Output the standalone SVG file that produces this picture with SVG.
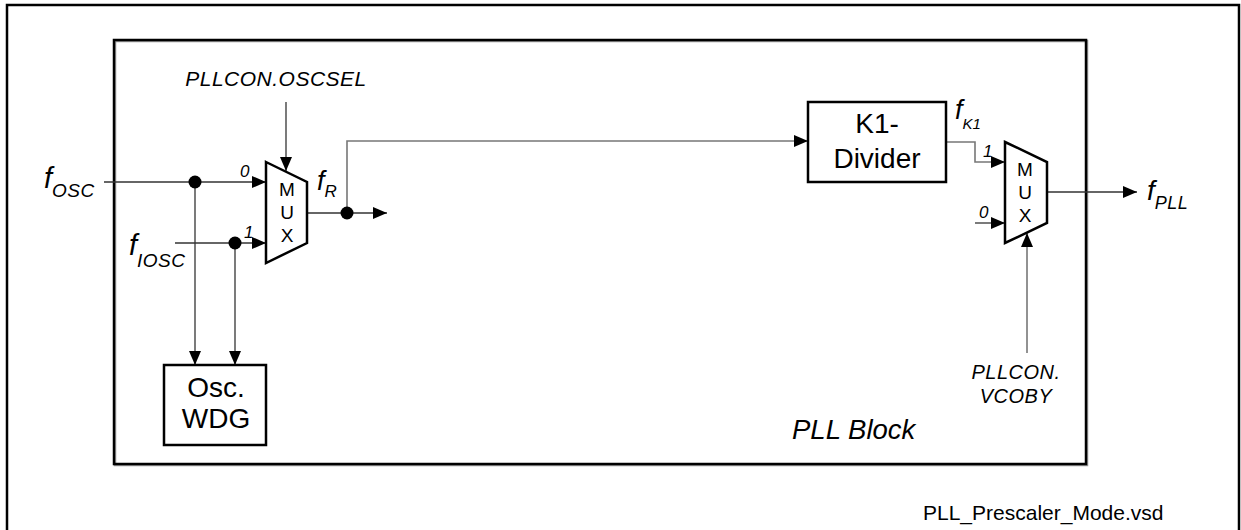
<svg xmlns="http://www.w3.org/2000/svg" width="1241" height="530" viewBox="0 0 1241 530">
<defs>
<marker id="arr" markerWidth="14" markerHeight="12" refX="14" refY="6" orient="auto" markerUnits="userSpaceOnUse"><path d="M0,0 L14,6 L0,12 Z" fill="#000"/></marker>
<style>
.frame{fill:none;stroke:#000;stroke-width:2.5}
.box{fill:#fff;stroke:#000;stroke-width:2.5}
.mux{fill:#fff;stroke:#000;stroke-width:2.5}
.w{fill:none;stroke:#333;stroke-width:1.3}
.g{fill:none;stroke:#777;stroke-width:1.6}
.t{font-family:"Liberation Sans",Arial,sans-serif;fill:#000}
.it{font-style:italic}
.dot{fill:#000}
</style>
</defs>
<rect x="7" y="5" width="1232" height="540" class="frame" stroke-width="2"/>
<g id="pll-block">
<rect x="115" y="41" width="972" height="424" fill="none" stroke="#999" stroke-width="2.5"/>
<rect x="114" y="40" width="972" height="424" class="frame"/>
<text x="792" y="439" class="t it" font-size="27.5">PLL Block</text>
</g>
<g id="connectors">
<path d="M104,182 L266,182" class="w" marker-end="url(#arr)"/>
<path d="M175,243 L266,243" class="w" marker-end="url(#arr)"/>
<path d="M195,182 L195,365" class="w" marker-end="url(#arr)"/>
<path d="M235,243 L235,365" class="w" marker-end="url(#arr)"/>
<path d="M286,102 L286,171" class="w" marker-end="url(#arr)"/>
<path d="M307,213 L387,213" class="w" marker-end="url(#arr)"/>
<path d="M347,213 L347,141 L808,141" class="g" marker-end="url(#arr)"/>
<path d="M946,142 L975,142 L975,162 L1005,162" class="g" marker-end="url(#arr)"/>
<path d="M975,223 L1005,223" class="w" marker-end="url(#arr)"/>
<path d="M1047,192 L1137,192" class="w" marker-end="url(#arr)"/>
<path d="M1027,353 L1027,233" class="g" marker-end="url(#arr)"/>
<circle cx="195" cy="182" r="6.5" class="dot"/>
<circle cx="235" cy="243" r="6.5" class="dot"/>
<circle cx="347" cy="213" r="6.5" class="dot"/>
</g>
<g id="mux1">
<path d="M266,162 L307,182 L307,243 L266,263 Z" class="mux"/>
<text x="287" y="196" class="t" font-size="19" text-anchor="middle">M</text>
<text x="287" y="219" class="t" font-size="19" text-anchor="middle">U</text>
<text x="287" y="242" class="t" font-size="19" text-anchor="middle">X</text>
<text x="240" y="177" class="t it" font-size="17">0</text>
<text x="244" y="238" class="t it" font-size="17">1</text>
</g>
<g id="mux2">
<path d="M1005,142 L1047,162 L1047,223 L1005,243 Z" class="mux"/>
<text x="1025" y="176" class="t" font-size="19" text-anchor="middle">M</text>
<text x="1025" y="199" class="t" font-size="19" text-anchor="middle">U</text>
<text x="1025" y="222" class="t" font-size="19" text-anchor="middle">X</text>
<text x="983" y="157" class="t it" font-size="17">1</text>
<text x="979" y="218" class="t it" font-size="17">0</text>
</g>
<g id="osc-wdg">
<rect x="164" y="365" width="102" height="80" class="box"/>
<text x="216" y="397" class="t" font-size="28" text-anchor="middle">Osc.</text>
<text x="216" y="428" class="t" font-size="28" text-anchor="middle">WDG</text>
</g>
<g id="k1-divider">
<rect x="808" y="102" width="138" height="80" class="box"/>
<text x="877" y="133" class="t" font-size="28" text-anchor="middle">K1-</text>
<text x="877" y="168" class="t" font-size="28" text-anchor="middle">Divider</text>
</g>
<g id="labels">
<text x="276" y="86" class="t it" font-size="21" text-anchor="middle" letter-spacing="0.5">PLLCON.OSCSEL</text>
<text x="44" y="188" class="t it" font-size="29">f<tspan font-size="19" dy="9" letter-spacing="0.5">OSC</tspan></text>
<text x="129" y="255" class="t it" font-size="29">f<tspan font-size="19" dy="12" letter-spacing="0.5">IOSC</tspan></text>
<text x="317" y="190" class="t it" font-size="27">f<tspan font-size="17" dy="7">R</tspan></text>
<text x="955" y="119" class="t it" font-size="27">f<tspan font-size="15" dy="10">K1</tspan></text>
<text x="1147" y="200" class="t it" font-size="28">f<tspan font-size="18" dy="9" letter-spacing="0.5">PLL</tspan></text>
<text x="1016" y="379" class="t it" font-size="20" text-anchor="middle" letter-spacing="0.5">PLLCON.</text>
<text x="1016" y="403" class="t it" font-size="20" text-anchor="middle" letter-spacing="0.5">VCOBY</text>
<text x="923" y="520" class="t" font-size="21">PLL_Prescaler_Mode.vsd</text>
</g>
</svg>
